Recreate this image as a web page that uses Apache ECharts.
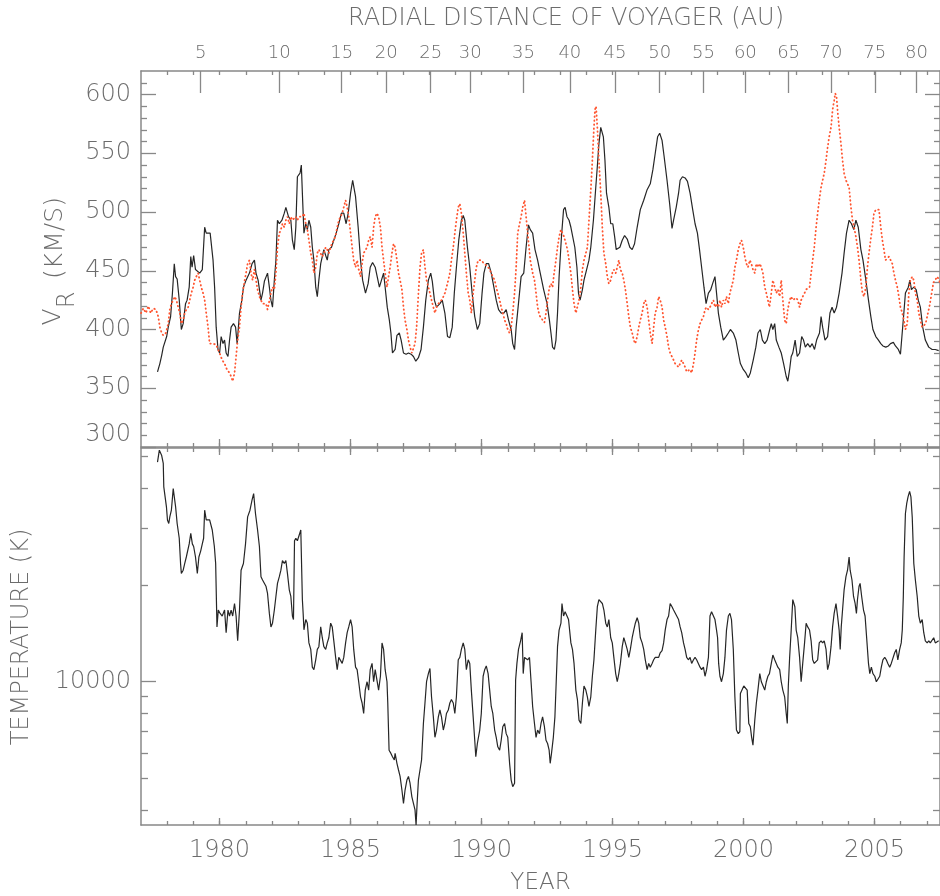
<!DOCTYPE html>
<html>
<head>
<meta charset="utf-8">
<script src="https://cdn.jsdelivr.net/npm/echarts@6/dist/echarts.min.js"></script>
<style>html,body{margin:0;padding:0;background:#fff}#c{width:940px;height:896px}</style>
</head>
<body>
<div id="c"></div>
<script>
// ---------- tick labels ----------
const yearLabels = [1980, 1985, 1990, 1995, 2000, 2005];
const auTicks = [5, 10, 15, 20, 25, 30, 35, 40, 45, 50, 55, 60, 65, 70, 75, 80];
const auYears = [1979.28, 1982.28, 1984.66, 1986.36, 1988.06, 1989.57, 1991.60, 1993.37, 1995.09, 1996.80, 1998.47, 2000.07, 2001.72, 2003.34, 2005.01, 2006.60];
const vrLabels = [350, 400, 450, 500, 550, 600];
const vrMajorTicks = [300, 350, 400, 450, 500, 550, 600];
const tempLabels = [10000];
const tempMinorTicks = [4000, 5000, 6000, 7000, 8000, 9000, 20000, 30000, 40000, 50000];

// ---------- Voyager 2 radial speed (km/s) ----------
const vrYears = [
1977.63,1977.72,1977.79,1977.85,1977.98,1978.04,1978.13,1978.20,1978.27,1978.32,
1978.38,1978.46,1978.54,1978.61,1978.70,1978.76,1978.84,1978.90,1978.95,1979.01,
1979.08,1979.14,1979.24,1979.34,1979.39,1979.43,1979.49,1979.64,1979.75,1979.81,
1979.87,1979.94,1980.00,1980.06,1980.13,1980.19,1980.25,1980.32,1980.38,1980.44,
1980.53,1980.61,1980.67,1980.76,1980.85,1980.91,1981.01,1981.14,1981.24,1981.33,
1981.39,1981.47,1981.58,1981.64,1981.71,1981.77,1981.83,1981.90,1981.96,1982.02,
1982.09,1982.15,1982.21,1982.28,1982.38,1982.47,1982.53,1982.63,1982.72,1982.78,
1982.85,1982.91,1982.97,1983.04,1983.07,1983.12,1983.16,1983.22,1983.29,1983.35,
1983.41,1983.48,1983.54,1983.60,1983.67,1983.73,1983.79,1983.86,1983.92,1983.98,
1984.05,1984.11,1984.17,1984.27,1984.36,1984.45,1984.55,1984.65,1984.74,1984.83,
1984.91,1985.00,1985.08,1985.19,1985.29,1985.38,1985.46,1985.57,1985.67,1985.75,
1985.84,1985.94,1986.10,1986.17,1986.26,1986.32,1986.40,1986.48,1986.54,1986.60,
1986.70,1986.77,1986.86,1986.93,1987.02,1987.12,1987.21,1987.31,1987.40,1987.49,
1987.59,1987.69,1987.78,1987.87,1987.97,1988.06,1988.12,1988.20,1988.28,1988.41,
1988.50,1988.60,1988.70,1988.79,1988.88,1988.96,1989.04,1989.13,1989.23,1989.30,
1989.36,1989.46,1989.55,1989.64,1989.74,1989.84,1989.93,1990.02,1990.09,1990.18,
1990.27,1990.37,1990.47,1990.56,1990.65,1990.75,1990.85,1990.94,1991.03,1991.13,
1991.19,1991.26,1991.32,1991.51,1991.61,1991.70,1991.79,1991.86,1991.95,1992.04,
1992.14,1992.24,1992.37,1992.50,1992.59,1992.65,1992.71,1992.78,1992.84,1992.90,
1992.96,1993.05,1993.13,1993.19,1993.26,1993.34,1993.41,1993.47,1993.56,1993.64,
1993.70,1993.76,1993.85,1993.91,1994.01,1994.10,1994.17,1994.27,1994.36,1994.42,
1994.48,1994.55,1994.61,1994.65,1994.71,1994.77,1994.86,1994.93,1995.01,1995.08,
1995.14,1995.20,1995.28,1995.37,1995.46,1995.56,1995.66,1995.75,1995.84,1995.94,
1996.06,1996.19,1996.32,1996.44,1996.54,1996.63,1996.72,1996.80,1996.89,1996.97,
1997.08,1997.18,1997.27,1997.33,1997.43,1997.52,1997.58,1997.67,1997.77,1997.86,
1997.96,1998.06,1998.15,1998.24,1998.32,1998.40,1998.49,1998.57,1998.66,1998.75,
1998.82,1998.91,1998.97,1999.04,1999.13,1999.23,1999.33,1999.42,1999.50,1999.61,
1999.71,1999.80,1999.88,1999.99,2000.09,2000.18,2000.26,2000.37,2000.47,2000.55,
2000.64,2000.72,2000.81,2000.90,2001.00,2001.06,2001.12,2001.19,2001.25,2001.35,
2001.44,2001.53,2001.63,2001.69,2001.76,2001.82,2001.88,2001.97,2002.05,2002.14,
2002.22,2002.29,2002.36,2002.45,2002.54,2002.62,2002.71,2002.79,2002.90,2002.96,
2003.02,2003.11,2003.21,2003.30,2003.38,2003.46,2003.55,2003.65,2003.76,2003.84,
2003.93,2004.03,2004.12,2004.21,2004.29,2004.38,2004.48,2004.56,2004.67,2004.77,
2004.86,2004.94,2005.05,2005.15,2005.24,2005.32,2005.43,2005.53,2005.61,2005.72,
2005.80,2005.91,2005.99,2006.06,2006.12,2006.18,2006.29,2006.35,2006.41,2006.50,
2006.59,2006.67,2006.75,2006.84,2006.94,2007.07,2007.20,2007.32,2007.45];
const vrValues = [
364,371,378,385,394,402,411,431,456,445,
443,425,400,405,422,425,436,462,453,463,
451,452,448,451,451,487,482,482,459,436,
402,383,380,394,388,391,380,377,391,402,
405,402,388,414,425,436,442,448,456,459,
448,442,425,431,441,442,448,436,425,419,
442,459,493,490,493,499,504,496,493,476,
468,487,530,529,533,540,516,482,490,485,
493,487,470,459,436,428,442,456,462,468,
463,459,468,470,476,482,490,499,499,490,
499,516,527,513,487,459,442,431,439,453,
457,453,436,436,448,436,419,408,397,380,
383,395,397,391,380,379,380,379,377,373,
376,383,402,425,442,448,441,425,419,422,
425,414,394,393,402,431,453,476,493,497,
493,470,453,431,411,400,405,431,448,456,
456,448,436,425,417,414,414,417,408,400,
388,383,402,445,448,470,489,485,482,468,
459,448,434,422,408,397,385,383,391,414,
445,479,502,504,496,493,487,487,470,453,
431,425,434,442,451,459,470,493,521,539,
558,572,572,564,544,516,504,490,490,479,
468,467,470,476,480,477,470,468,473,487,
502,510,519,524,536,550,564,567,561,547,
527,507,486,493,504,516,527,530,529,526,
516,502,490,482,468,453,436,422,431,434,
439,445,431,414,402,391,394,397,400,397,
391,380,371,366,363,359,363,374,385,397,
400,391,388,391,400,405,400,405,391,385,
380,371,360,356,366,377,380,391,377,380,
394,391,385,388,385,388,383,391,397,411,
402,391,394,414,419,414,419,431,448,465,
482,493,490,485,493,487,468,459,442,425,
411,400,394,391,388,386,385,386,388,389,
386,383,379,380,414,431,436,442,434,436,
434,425,419,402,391,385,383,383,382];

// ---------- 1 AU radial speed, time-shifted (km/s) ----------
const auYearsR = [
1977.00,1977.09,1977.19,1977.28,1977.37,1977.47,1977.57,1977.66,1977.72,1977.79,
1977.85,1977.95,1978.04,1978.10,1978.16,1978.23,1978.29,1978.35,1978.42,1978.48,
1978.54,1978.61,1978.67,1978.73,1978.80,1978.86,1978.92,1978.99,1979.05,1979.11,
1979.18,1979.24,1979.30,1979.37,1979.43,1979.49,1979.56,1979.62,1979.68,1979.75,
1979.81,1979.87,1979.94,1980.00,1980.10,1980.19,1980.28,1980.38,1980.44,1980.50,
1980.57,1980.63,1980.69,1980.76,1980.82,1980.88,1980.95,1981.01,1981.07,1981.14,
1981.20,1981.26,1981.33,1981.39,1981.45,1981.52,1981.58,1981.64,1981.77,1981.83,
1981.90,1981.96,1982.02,1982.09,1982.15,1982.21,1982.28,1982.34,1982.40,1982.47,
1982.53,1982.59,1982.66,1982.72,1982.78,1982.91,1982.97,1983.03,1983.16,1983.22,
1983.29,1983.35,1983.41,1983.48,1983.54,1983.60,1983.67,1983.73,1983.79,1983.92,
1983.98,1984.05,1984.11,1984.17,1984.24,1984.30,1984.36,1984.43,1984.49,1984.55,
1984.62,1984.68,1984.74,1984.81,1984.87,1984.93,1985.00,1985.06,1985.12,1985.19,
1985.25,1985.31,1985.38,1985.44,1985.50,1985.63,1985.69,1985.75,1985.82,1985.88,
1985.94,1986.01,1986.07,1986.14,1986.20,1986.26,1986.32,1986.39,1986.45,1986.51,
1986.58,1986.64,1986.70,1986.77,1986.83,1986.89,1986.96,1987.02,1987.08,1987.15,
1987.21,1987.27,1987.34,1987.40,1987.46,1987.52,1987.59,1987.65,1987.71,1987.78,
1987.84,1987.90,1987.97,1988.03,1988.09,1988.16,1988.22,1988.28,1988.35,1988.41,
1988.47,1988.54,1988.60,1988.66,1988.73,1988.79,1988.85,1988.92,1988.98,1989.04,
1989.11,1989.17,1989.23,1989.30,1989.36,1989.42,1989.49,1989.55,1989.61,1989.68,
1989.74,1989.80,1989.87,1989.93,1989.99,1990.06,1990.12,1990.25,1990.31,1990.37,
1990.43,1990.50,1990.56,1990.62,1990.69,1990.75,1990.81,1990.88,1990.94,1991.00,
1991.07,1991.13,1991.19,1991.26,1991.32,1991.38,1991.45,1991.51,1991.57,1991.64,
1991.76,1991.86,1991.95,1992.02,1992.08,1992.14,1992.21,1992.27,1992.33,1992.40,
1992.46,1992.52,1992.59,1992.65,1992.71,1992.77,1992.84,1992.90,1992.96,1993.03,
1993.09,1993.15,1993.22,1993.28,1993.34,1993.41,1993.47,1993.53,1993.60,1993.66,
1993.72,1993.79,1993.85,1993.91,1993.98,1994.04,1994.10,1994.17,1994.23,1994.29,
1994.33,1994.37,1994.42,1994.48,1994.55,1994.61,1994.67,1994.74,1994.80,1994.86,
1994.93,1994.99,1995.05,1995.12,1995.18,1995.24,1995.30,1995.37,1995.43,1995.49,
1995.56,1995.62,1995.68,1995.75,1995.81,1995.87,1995.94,1996.00,1996.06,1996.13,
1996.19,1996.25,1996.32,1996.38,1996.44,1996.51,1996.57,1996.63,1996.70,1996.76,
1996.82,1996.89,1996.95,1997.01,1997.08,1997.14,1997.20,1997.33,1997.39,1997.45,
1997.52,1997.58,1997.64,1997.71,1997.77,1997.83,1997.90,1997.96,1998.02,1998.09,
1998.15,1998.21,1998.28,1998.34,1998.40,1998.47,1998.53,1998.59,1998.66,1998.72,
1998.78,1998.85,1998.91,1998.97,1999.04,1999.10,1999.16,1999.23,1999.29,1999.35,
1999.42,1999.48,1999.54,1999.61,1999.67,1999.73,1999.80,1999.86,1999.92,1999.99,
2000.05,2000.11,2000.17,2000.24,2000.30,2000.36,2000.43,2000.49,2000.55,2000.62,
2000.68,2000.74,2000.81,2000.87,2000.93,2000.99,2001.06,2001.12,2001.19,2001.25,
2001.31,2001.38,2001.44,2001.50,2001.57,2001.63,2001.69,2001.76,2001.82,2001.88,
2002.01,2002.07,2002.14,2002.20,2002.26,2002.33,2002.39,2002.52,2002.58,2002.64,
2002.70,2002.77,2002.83,2002.89,2002.96,2003.02,2003.08,2003.15,2003.21,2003.27,
2003.34,2003.40,2003.46,2003.50,2003.55,2003.60,2003.65,2003.72,2003.78,2003.84,
2003.91,2003.97,2004.03,2004.10,2004.16,2004.22,2004.29,2004.35,2004.41,2004.48,
2004.54,2004.60,2004.67,2004.73,2004.79,2004.85,2004.92,2004.98,2005.05,2005.11,
2005.17,2005.24,2005.30,2005.36,2005.42,2005.55,2005.68,2005.74,2005.80,2005.87,
2005.93,2005.99,2006.06,2006.12,2006.18,2006.25,2006.31,2006.37,2006.44,2006.50,
2006.56,2006.63,2006.69,2006.75,2006.82,2006.95,2007.10,2007.25,2007.40,2007.50];
const auValuesR = [
414,418,414,420,414,418,417,411,402,397,
395,397,405,417,422,425,428,425,419,414,
405,408,414,417,419,425,431,436,442,445,
448,442,436,431,425,414,402,388,387,388,
387,387,383,380,374,371,366,363,360,356,
363,377,391,402,419,431,441,448,456,459,
448,442,451,442,434,428,425,422,422,417,
417,431,436,434,448,470,482,485,490,487,
493,496,490,496,493,496,493,496,496,499,
490,485,476,465,459,448,453,465,468,462,
465,470,468,465,470,474,476,480,487,493,
496,499,504,510,504,496,482,470,459,453,
459,451,445,456,465,470,476,479,470,487,
496,499,496,487,470,459,448,436,445,453,
465,473,470,459,448,442,434,419,408,400,
391,385,380,380,388,402,431,453,465,468,
453,442,436,431,425,419,414,419,422,422,
425,428,431,436,442,448,459,470,482,493,
504,507,499,482,465,448,431,425,414,431,
442,453,459,460,459,457,456,453,451,448,
445,442,436,431,425,419,414,408,405,400,
397,402,414,431,453,482,490,496,504,510,
482,459,448,442,431,419,412,411,408,406,
414,425,436,439,436,448,459,470,479,485,
482,479,473,468,459,448,434,422,414,414,
425,436,451,459,459,470,493,519,544,572,
587,590,572,544,516,487,465,456,445,439,
442,448,451,448,453,459,451,448,442,434,
422,411,402,397,391,388,394,402,408,414,
422,425,419,408,397,388,402,414,419,428,
425,419,408,402,394,385,380,374,371,370,
368,371,374,371,368,364,363,366,363,371,
380,391,400,405,408,411,417,419,417,419,
422,425,419,422,419,425,419,425,422,428,
422,431,436,442,453,459,468,473,476,470,
462,456,453,459,456,451,448,456,453,456,
453,448,436,431,425,419,431,442,436,431,
434,428,442,425,408,405,417,425,428,425,
427,425,419,425,428,431,434,436,448,459,
470,487,499,510,521,527,533,544,555,564,
572,587,595,601,598,584,572,558,544,533,
527,524,521,504,493,487,479,470,459,442,
431,428,436,453,465,476,487,499,502,501,
502,487,476,468,459,462,456,448,442,436,
428,419,414,408,400,405,431,442,445,442,
431,425,414,408,402,405,420,440,445,440];

// ---------- Voyager 2 temperature (K) ----------
const tempYears = [
1977.63,1977.70,1977.75,1977.79,1977.85,1977.87,1977.92,1977.97,1978.01,1978.06,
1978.10,1978.16,1978.23,1978.27,1978.32,1978.38,1978.46,1978.51,1978.54,1978.61,
1978.67,1978.73,1978.84,1978.90,1978.96,1979.01,1979.08,1979.15,1979.21,1979.28,
1979.34,1979.39,1979.43,1979.49,1979.62,1979.72,1979.80,1979.85,1979.90,1979.95,
1980.02,1980.10,1980.19,1980.25,1980.32,1980.38,1980.44,1980.50,1980.57,1980.63,
1980.69,1980.76,1980.82,1980.91,1980.99,1981.07,1981.16,1981.24,1981.30,1981.37,
1981.45,1981.52,1981.58,1981.64,1981.77,1981.83,1981.90,1981.96,1982.02,1982.09,
1982.15,1982.21,1982.28,1982.34,1982.40,1982.47,1982.53,1982.59,1982.66,1982.72,
1982.78,1982.82,1982.86,1982.91,1982.97,1983.03,1983.10,1983.16,1983.19,1983.22,
1983.29,1983.35,1983.41,1983.48,1983.54,1983.60,1983.67,1983.73,1983.79,1983.86,
1983.92,1983.98,1984.05,1984.11,1984.17,1984.24,1984.30,1984.36,1984.43,1984.49,
1984.55,1984.62,1984.68,1984.74,1984.81,1984.87,1984.93,1985.00,1985.06,1985.12,
1985.19,1985.25,1985.31,1985.38,1985.44,1985.50,1985.56,1985.63,1985.69,1985.75,
1985.82,1985.88,1985.94,1986.01,1986.07,1986.14,1986.20,1986.26,1986.32,1986.39,
1986.42,1986.47,1986.54,1986.60,1986.67,1986.70,1986.77,1986.83,1986.89,1986.96,
1987.02,1987.08,1987.15,1987.21,1987.27,1987.34,1987.40,1987.46,1987.50,1987.54,
1987.59,1987.65,1987.71,1987.78,1987.84,1987.90,1987.97,1988.03,1988.09,1988.16,
1988.22,1988.28,1988.35,1988.41,1988.47,1988.54,1988.60,1988.66,1988.73,1988.79,
1988.85,1988.92,1988.98,1989.04,1989.11,1989.17,1989.23,1989.30,1989.36,1989.42,
1989.49,1989.55,1989.61,1989.68,1989.74,1989.78,1989.84,1989.93,1989.99,1990.06,
1990.12,1990.18,1990.25,1990.31,1990.37,1990.43,1990.50,1990.56,1990.62,1990.69,
1990.75,1990.81,1990.88,1990.94,1991.00,1991.07,1991.13,1991.19,1991.26,1991.30,
1991.35,1991.41,1991.49,1991.55,1991.59,1991.64,1991.76,1991.83,1991.89,1991.95,
1992.02,1992.08,1992.14,1992.21,1992.27,1992.33,1992.40,1992.46,1992.52,1992.58,
1992.62,1992.67,1992.74,1992.80,1992.85,1992.90,1992.96,1993.03,1993.07,1993.13,
1993.19,1993.26,1993.32,1993.41,1993.47,1993.53,1993.60,1993.66,1993.72,1993.79,
1993.85,1993.91,1993.98,1994.04,1994.10,1994.17,1994.23,1994.29,1994.36,1994.42,
1994.48,1994.55,1994.61,1994.67,1994.74,1994.80,1994.86,1994.93,1994.99,1995.05,
1995.12,1995.18,1995.24,1995.30,1995.37,1995.43,1995.49,1995.56,1995.62,1995.68,
1995.75,1995.81,1995.87,1995.94,1996.00,1996.06,1996.13,1996.19,1996.25,1996.32,
1996.38,1996.44,1996.51,1996.57,1996.63,1996.76,1996.82,1996.89,1996.95,1997.01,
1997.08,1997.14,1997.20,1997.27,1997.33,1997.39,1997.45,1997.52,1997.58,1997.64,
1997.71,1997.77,1997.83,1997.90,1997.96,1998.02,1998.09,1998.15,1998.21,1998.34,
1998.40,1998.47,1998.53,1998.59,1998.66,1998.72,1998.78,1998.85,1998.91,1998.97,
1999.01,1999.05,1999.10,1999.16,1999.23,1999.29,1999.35,1999.42,1999.48,1999.54,
1999.61,1999.67,1999.73,1999.80,1999.86,1999.88,1999.95,2000.01,2000.07,2000.14,
2000.20,2000.26,2000.31,2000.36,2000.43,2000.49,2000.55,2000.62,2000.68,2000.74,
2000.81,2000.87,2000.93,2000.99,2001.06,2001.12,2001.19,2001.25,2001.31,2001.38,
2001.44,2001.50,2001.57,2001.63,2001.67,2001.71,2001.76,2001.82,2001.88,2001.92,
2001.96,2002.01,2002.07,2002.14,2002.20,2002.26,2002.33,2002.39,2002.45,2002.52,
2002.58,2002.64,2002.70,2002.83,2002.89,2002.96,2003.02,2003.08,2003.15,2003.21,
2003.27,2003.34,2003.40,2003.46,2003.53,2003.59,2003.65,2003.69,2003.73,2003.78,
2003.84,2003.91,2003.97,2004.03,2004.07,2004.14,2004.20,2004.26,2004.31,2004.35,
2004.41,2004.45,2004.51,2004.58,2004.64,2004.70,2004.77,2004.82,2004.88,2004.94,
2005.01,2005.07,2005.13,2005.20,2005.26,2005.32,2005.39,2005.45,2005.51,2005.58,
2005.64,2005.70,2005.77,2005.83,2005.89,2005.96,2006.02,2006.06,2006.10,2006.13,
2006.18,2006.23,2006.28,2006.34,2006.39,2006.44,2006.50,2006.56,2006.63,2006.69,
2006.75,2006.82,2006.88,2006.94,2007.01,2007.07,2007.13,2007.26,2007.32,2007.45];
const tempValues = [
48100,52400,53000,50400,47650,40300,39800,35000,31800,31000,
32500,34100,39800,40300,35000,31000,27900,23300,21700,22200,
23300,24400,26800,28900,26800,26300,24400,21700,24400,25500,
26800,27900,34100,31800,31800,29600,26300,23300,14800,16700,
16300,16000,16700,14200,16700,16000,16700,16000,17500,16000,
13400,16700,22200,23300,26800,32500,34100,36700,38400,33300,
29600,26300,21200,20700,19800,18800,16300,14800,15200,16700,
18400,20200,21200,22200,23800,23300,23800,21700,19300,18400,
16000,15600,27400,27900,27400,27400,29600,18000,16300,14500,
15600,15200,13200,12600,11100,10900,11700,12600,12850,14800,
13700,12850,12600,13200,13700,15200,14800,13400,11900,10900,
11900,11900,11400,11900,13200,14200,14800,15600,14800,12600,
11100,10900,10000,8980,8590,7970,9420,10000,9420,10900,
11400,10000,10900,10900,9420,10400,13200,12600,10900,10000,
8590,6130,5990,5850,5720,5990,5580,5320,5080,4610,
4190,4610,4950,5080,4840,4390,4190,4000,3590,4190,
4950,5320,5720,7420,8590,10000,10600,11000,8980,7780,
6720,7080,7780,8170,7780,7080,7420,7970,8170,8590,
8800,8590,7970,8980,11700,11900,12600,13200,12600,10900,
11700,11400,9420,7780,6580,5850,6430,7080,7970,10400,
10900,11200,10600,9420,8380,7970,7080,6720,6280,6130,
6580,7250,7420,6900,6720,5580,4950,4720,4840,10120,
11400,12600,13400,14200,10600,11900,11700,11900,10000,8380,
7420,6720,7080,6900,7420,7780,7250,6580,6430,6130,
5580,5990,6720,7780,10000,12850,14470,15200,17500,16000,
16500,16300,15600,13200,12600,11400,9420,8800,7600,7420,
8590,9700,9420,8980,8380,8980,10400,11700,14470,17100,
18000,18000,17500,16700,15200,14800,15600,13700,13200,11900,
10600,10000,10600,11400,12850,13700,13200,12600,11900,12600,
13700,14470,15200,15800,15200,13700,13200,12600,11700,10900,
11400,11100,11400,11700,11900,11900,12300,12500,13200,14470,
15600,16000,17500,17100,16700,16500,16000,15600,14800,14200,
13200,12600,11900,11700,11900,11400,11700,11900,11700,11100,
10900,11100,10400,10900,11900,16000,16500,16300,15600,14470,
13700,11400,10400,10000,10600,11900,14470,16000,16300,15600,
12600,8980,7080,6900,7000,9200,9200,9700,9800,9420,
7420,7250,6720,6350,7600,8590,9420,10600,10000,10000,
9420,10000,10400,10600,11400,12100,11700,11700,11100,10900,
10000,9420,8980,7970,7420,9700,11900,14470,18000,18200,
17100,14470,13700,11900,10000,11400,13200,15200,14800,14470,
13400,11700,11400,11700,13200,13400,13200,13400,12600,10900,
11400,12850,14800,16300,17500,16000,14470,12600,14800,16700,
19300,21200,22200,24400,22200,20700,18400,17500,16300,18000,
19800,20200,18400,16700,16000,13700,11400,10600,11100,10600,
10400,10000,10000,10400,11100,11700,11900,11700,11400,11100,
11400,11400,12300,12600,11700,12600,13200,14470,18400,24400,
33300,35800,37500,39000,37500,32500,23300,20700,18400,16000,
15200,15600,14200,13400,13200,13400,13200,13700,13200,13400];

function zip(xs, ys, name) {
  if (xs.length !== ys.length) throw new Error(name + ' length mismatch ' + xs.length + ' vs ' + ys.length);
  return xs.map((x, i) => [x, ys[i]]);
}

const FONT = "'DejaVu Sans', 'Liberation Sans', sans-serif";
const FW = 200;
const AXC = '#888888';
const TXC = '#6c6c6c';
const X_MIN = 1977, X_MAX = 2007.5;
const V_MIN = 300, V_MAX = 620;
const T_MIN = 3590, T_MAX = 53200;

const yearMinor = []; for (let y = 1978; y <= 2007; y++) yearMinor.push(y);
const vrMinor = []; for (let v = 310; v <= 610; v += 10) if (v % 50) vrMinor.push(v);

function tick(vals, len) {
  return { show: true, inside: true, length: len, customValues: vals, lineStyle: { color: AXC, width: 1.3 } };
}
function axLine(show) { return { show: show, onZero: false, lineStyle: { color: AXC, width: 1.5 } }; }
const noLabel = { show: false };
const noSplit = { show: false };
const plain = function (v) { return String(Math.round(v)); };

function xAx(grid, pos, vals, len, showLine, label, extra) {
  return Object.assign({
    type: 'value', gridIndex: grid, position: pos, min: X_MIN, max: X_MAX,
    axisLine: axLine(showLine), axisTick: tick(vals, len),
    axisLabel: label || noLabel, splitLine: noSplit
  }, extra || {});
}
function yAx(grid, pos, type, min, max, vals, len, showLine, label) {
  const a = {
    type: type, gridIndex: grid, position: pos, min: min, max: max,
    axisLine: axLine(showLine), axisTick: tick(vals, len),
    axisLabel: label || noLabel, splitLine: noSplit
  };
  if (type === 'log') a.logBase = 10;
  return a;
}

const labelStyle = { color: TXC, fontFamily: FONT, fontSize: 24, fontWeight: FW };

const chart = echarts.init(document.getElementById('c'), null, { renderer: 'canvas' });
chart.setOption({
  animation: false,
  backgroundColor: '#ffffff',
  grid: [
    { left: 141, top: 71, width: 804, height: 376 },
    { left: 141, top: 448, width: 804, height: 377 }
  ],
  xAxis: [
    xAx(0, 'bottom', yearMinor, 4, true),
    xAx(0, 'bottom', yearLabels, 8, false),
    xAx(0, 'top', yearMinor, 4, true),
    xAx(0, 'top', auYears, 22, false, Object.assign({
      show: true, customValues: auYears, margin: 9,
      formatter: function (v) {
        let best = 0;
        for (let i = 1; i < auYears.length; i++) if (Math.abs(auYears[i] - v) < Math.abs(auYears[best] - v)) best = i;
        return String(auTicks[best]);
      }
    }, labelStyle, { fontSize: 18 })),
    xAx(1, 'top', yearMinor, 4, true),
    xAx(1, 'top', yearLabels, 7, false),
    xAx(1, 'bottom', yearMinor, 4, true),
    xAx(1, 'bottom', yearLabels, 7, false, Object.assign({
      show: true, customValues: yearLabels, margin: 14, formatter: plain
    }, labelStyle), {
      name: 'YEAR', nameLocation: 'middle', nameGap: 47,
      nameTextStyle: { color: TXC, fontFamily: FONT, fontSize: 23, fontWeight: FW }
    })
  ],
  yAxis: [
    yAx(0, 'left', 'value', V_MIN, V_MAX, vrMajorTicks, 15, true,
      Object.assign({ show: true, customValues: vrLabels, margin: 10, formatter: plain }, labelStyle)),
    yAx(0, 'left', 'value', V_MIN, V_MAX, vrMinor, 6, false),
    yAx(0, 'left', 'value', V_MIN, V_MAX, [], 0, false,
      Object.assign({ show: true, customValues: [300], margin: 10, verticalAlign: 'bottom', formatter: plain }, labelStyle)),
    yAx(0, 'right', 'value', V_MIN, V_MAX, vrMajorTicks, 15, true),
    yAx(0, 'right', 'value', V_MIN, V_MAX, vrMinor, 6, false),
    yAx(1, 'left', 'log', T_MIN, T_MAX, tempLabels, 15, true,
      Object.assign({ show: true, customValues: tempLabels, margin: 10, formatter: plain }, labelStyle)),
    yAx(1, 'left', 'log', T_MIN, T_MAX, tempMinorTicks, 7, false),
    yAx(1, 'right', 'log', T_MIN, T_MAX, tempLabels, 15, true),
    yAx(1, 'right', 'log', T_MIN, T_MAX, tempMinorTicks, 7, false)
  ],
  graphic: [
    { type: 'text', x: 566, y: 19, style: { text: 'RADIAL DISTANCE OF VOYAGER (AU)', fill: TXC, fontFamily: FONT, fontWeight: FW, fontSize: 24, align: 'center', verticalAlign: 'middle' } },
    { type: 'text', x: 53, y: 317, rotation: Math.PI / 2, style: { text: 'V', fill: TXC, fontFamily: FONT, fontWeight: FW, fontSize: 25, align: 'center', verticalAlign: 'middle' } },
    { type: 'text', x: 68, y: 300, rotation: Math.PI / 2, style: { text: 'R', fill: TXC, fontFamily: FONT, fontWeight: FW, fontSize: 24, align: 'center', verticalAlign: 'middle' } },
    { type: 'text', x: 55, y: 238, rotation: Math.PI / 2, style: { text: '(KM/S)', fill: TXC, fontFamily: FONT, fontWeight: FW, fontSize: 25, align: 'center', verticalAlign: 'middle' } },
    { type: 'text', x: 22, y: 637, rotation: Math.PI / 2, style: { text: 'TEMPERATURE (K)', fill: TXC, fontFamily: FONT, fontWeight: FW, fontSize: 24, align: 'center', verticalAlign: 'middle' } }
  ],
  series: [
    {
      name: 'Voyager 2 VR', type: 'line', xAxisIndex: 0, yAxisIndex: 0,
      data: zip(vrYears, vrValues, 'vr'), showSymbol: false, symbol: 'none', clip: true,
      lineStyle: { color: '#262626', width: 1.2 }, z: 2
    },
    {
      name: '1 AU VR', type: 'line', xAxisIndex: 0, yAxisIndex: 0,
      data: zip(auYearsR, auValuesR, 'omni'), showSymbol: false, symbol: 'none', clip: true,
      lineStyle: { color: '#ff5530', width: 1.8, type: [0.5, 3.5], cap: 'round' }, z: 3
    },
    {
      name: 'Temperature', type: 'line', xAxisIndex: 6, yAxisIndex: 5,
      data: zip(tempYears, tempValues, 'temp'), showSymbol: false, symbol: 'none', clip: true,
      lineStyle: { color: '#262626', width: 1.2 }, z: 2
    }
  ]
});
</script>
</body>
</html>
